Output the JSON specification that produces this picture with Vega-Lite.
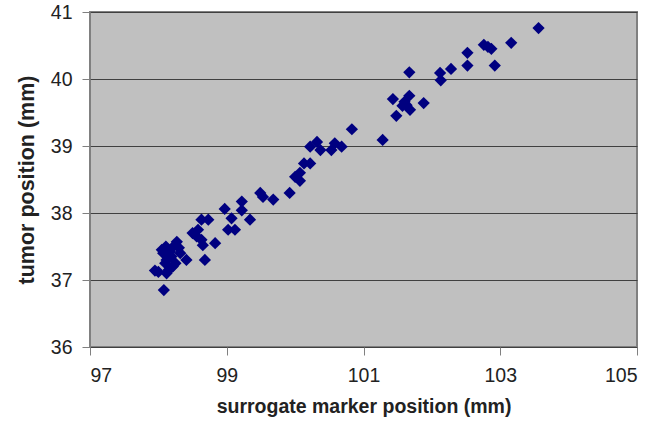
{
  "$schema": "https://vega.github.io/schema/vega-lite/v6.json",
  "width": 547,
  "height": 335,
  "autosize": {"type": "none"},
  "padding": {"left": 90, "top": 12, "right": 35, "bottom": 86},
  "background": "white",
  "config": {
    "view": {"fill": "#c0c0c0", "stroke": "#808080", "strokeWidth": 2},
    "font": "Liberation Sans"
  },
  "data": {
    "values": [
      {"x": 97.95, "y": 37.14}, {"x": 98.08, "y": 36.85}, {"x": 98.00, "y": 37.12},
      {"x": 98.05, "y": 37.45}, {"x": 98.11, "y": 37.50}, {"x": 98.27, "y": 37.57},
      {"x": 98.10, "y": 37.25}, {"x": 98.19, "y": 37.35}, {"x": 98.21, "y": 37.20},
      {"x": 98.12, "y": 37.10}, {"x": 98.32, "y": 37.40}, {"x": 98.41, "y": 37.30},
      {"x": 98.07, "y": 37.40}, {"x": 98.17, "y": 37.42}, {"x": 98.15, "y": 37.15},
      {"x": 98.22, "y": 37.50}, {"x": 98.56, "y": 37.65}, {"x": 98.58, "y": 37.75},
      {"x": 98.63, "y": 37.60}, {"x": 98.63, "y": 37.90}, {"x": 98.73, "y": 37.90},
      {"x": 98.68, "y": 37.30}, {"x": 98.83, "y": 37.55}, {"x": 98.65, "y": 37.52},
      {"x": 98.50, "y": 37.70}, {"x": 98.97, "y": 38.06}, {"x": 99.07, "y": 37.92},
      {"x": 99.02, "y": 37.75}, {"x": 99.12, "y": 37.75}, {"x": 99.22, "y": 38.17},
      {"x": 99.22, "y": 38.04}, {"x": 99.34, "y": 37.90}, {"x": 99.49, "y": 38.30},
      {"x": 99.53, "y": 38.24}, {"x": 99.68, "y": 38.20}, {"x": 99.92, "y": 38.30},
      {"x": 100.00, "y": 38.54}, {"x": 100.07, "y": 38.60}, {"x": 100.07, "y": 38.48},
      {"x": 100.13, "y": 38.74}, {"x": 100.22, "y": 38.74}, {"x": 100.22, "y": 38.99},
      {"x": 100.32, "y": 39.06}, {"x": 100.37, "y": 38.94}, {"x": 100.53, "y": 38.94},
      {"x": 100.58, "y": 39.04}, {"x": 100.68, "y": 38.99}, {"x": 100.83, "y": 39.25},
      {"x": 101.28, "y": 39.09}, {"x": 101.43, "y": 39.70}, {"x": 101.48, "y": 39.45},
      {"x": 101.67, "y": 39.75}, {"x": 101.57, "y": 39.60}, {"x": 101.63, "y": 39.61},
      {"x": 101.68, "y": 39.54}, {"x": 101.88, "y": 39.64}, {"x": 101.67, "y": 40.10},
      {"x": 101.60, "y": 39.66}, {"x": 102.12, "y": 40.09}, {"x": 102.13, "y": 39.98},
      {"x": 102.28, "y": 40.15}, {"x": 102.52, "y": 40.39}, {"x": 102.52, "y": 40.20},
      {"x": 102.76, "y": 40.51}, {"x": 102.87, "y": 40.45}, {"x": 102.82, "y": 40.48},
      {"x": 102.92, "y": 40.20}, {"x": 103.16, "y": 40.54}, {"x": 103.56, "y": 40.76},
      {"x": 98.30, "y": 37.48}, {"x": 98.12, "y": 37.30}, {"x": 98.25, "y": 37.25}
    ]
  },
  "mark": {"type": "point", "shape": "diamond", "filled": true, "size": 150, "color": "#000080", "opacity": 1},
  "encoding": {
    "x": {
      "field": "x", "type": "quantitative",
      "scale": {"domain": [97, 105], "nice": false, "zero": false},
      "axis": {
        "values": [97, 99, 101, 103, 105], "grid": false,
        "title": "surrogate marker position (mm)",
        "titleFontSize": 19.5, "titleFontWeight": "bold", "titleColor": "#222", "titlePadding": 13,
        "labelFontSize": 19.5, "labelColor": "#222", "labelPadding": 11,
        "tickSize": 8, "tickColor": "#808080", "domain": false
      }
    },
    "y": {
      "field": "y", "type": "quantitative",
      "scale": {"domain": [36, 41], "nice": false, "zero": false},
      "axis": {
        "values": [36, 37, 38, 39, 40, 41], "grid": true, "gridColor": "#404040", "gridWidth": 1, "gridOpacity": 1,
        "title": "tumor position (mm)",
        "titleFontSize": 21.5, "titleFontWeight": "bold", "titleColor": "#222", "titlePadding": 12,
        "labelFontSize": 19.5, "labelColor": "#222", "labelPadding": 10,
        "tickSize": 8, "tickColor": "#808080", "domain": false
      }
    }
  }
}
